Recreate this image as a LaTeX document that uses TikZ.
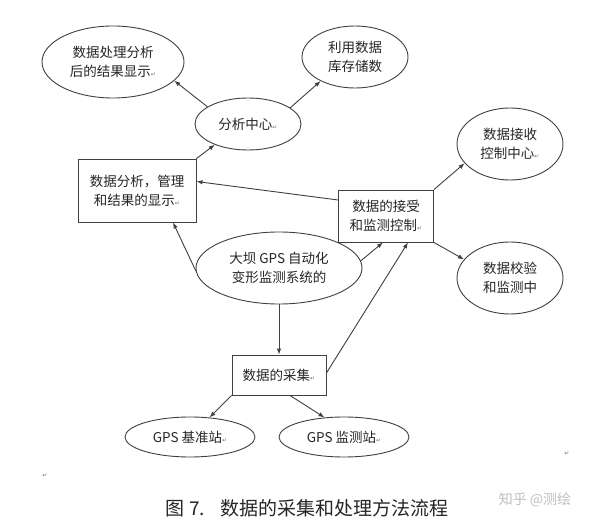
\documentclass[tikz,border=0pt]{standalone}
\usepackage{fontspec}
\setmainfont{Noto Sans CJK SC}
\newfontfamily\dejavu{DejaVu Sans}
\usetikzlibrary{shapes.geometric,arrows.meta}
\newcommand\rmk{{\dejavu\fontsize{6}{6}\selectfont\color{black!55}↵}}
\tikzset{
  base/.style={draw=black!75, line width=0.9pt, inner sep=0pt, align=center,
    font=\fontsize{13.5}{19}\selectfont, text=black!85},
  ell/.style={base, ellipse},
  box/.style={base, rectangle},
  arr/.style={draw=black!75, line width=0.9pt, -{Latex[length=6pt,width=4.5pt]}},
}
\begin{document}
\begin{tikzpicture}[x=1pt,y=-1pt]
\path[use as bounding box, fill=white] (0,0) rectangle (597,526);
% nodes
\node[ell, minimum width=142pt, minimum height=72pt] (e1) at (113,62) {数据处理分析\\后的结果显示\rmk};
\node[ell, minimum width=106pt, minimum height=62pt] (e2) at (355,57) {利用数据\\库存储数};
\node[ell, minimum width=106pt, minimum height=52pt] (e3) at (248,124) {分析中心\rmk};
\node[box, minimum width=118pt, minimum height=63pt] (b1) at (137,190.5) {数据分析，管理\\和结果的显示\rmk};
\node[ell, minimum width=106pt, minimum height=72pt] (e4) at (510,144) {数据接收\\控制中心\rmk};
\node[box, minimum width=95pt, minimum height=52pt] (b2) at (386,216) {数据的接受\\和监测控制\rmk};
\node[ell, minimum width=106pt, minimum height=72pt] (e5) at (510,278) {数据校验\\和监测中};
\node[ell, minimum width=166pt, minimum height=72pt] (e6) at (279,268) {大坝 GPS 自动化\\变形监测系统的};
\node[box, minimum width=94pt, minimum height=40pt] (b3) at (279,375) {数据的采集\rmk};
\node[ell, minimum width=130pt, minimum height=40pt] (e7) at (190,437) {GPS 基准站\rmk};
\node[ell, minimum width=130pt, minimum height=40pt] (e8) at (344,437) {GPS 监测站\rmk};
% connectors
\draw[arr] (b1.north east) -- (e3.212);
\draw[arr] (e3.157) -- (e1.-17);
\draw[arr] (e3.21) -- (e2.215);
\draw[arr] ([yshift=16pt]b2.west) -- ([yshift=9pt]b1.east);
\draw[arr] (b2.north east) -- (e4.203);
\draw[arr] (b2.south east) -- (e5.158);
\draw[arr] (e6.182) -- ([xshift=36pt]b1.south);
\draw[arr] (e6.5) -- ([xshift=-3pt]b2.south);
\draw[arr] (e6.south) -- (b3.north);
\draw[arr] ([yshift=2pt]b3.east) -- ([xshift=22pt]b2.south);
\draw[arr] (b3.south west) -- (e7.45);
\draw[arr] ([xshift=11pt]b3.south) -- (e8.135);
% caption and marks
\node[font=\fontsize{19}{21}\selectfont, text=black!85] (cap) at (307,508) {图 7.\hspace{0.8em}数据的采集和处理方法流程};
\node[font=\fontsize{14}{16}\selectfont, text=black!25] (wm) at (535,500) {知乎 @测绘};
\node (m1) at (567,454) {\rmk};
\node (m2) at (45,476) {\rmk};
\end{tikzpicture}
\end{document}
